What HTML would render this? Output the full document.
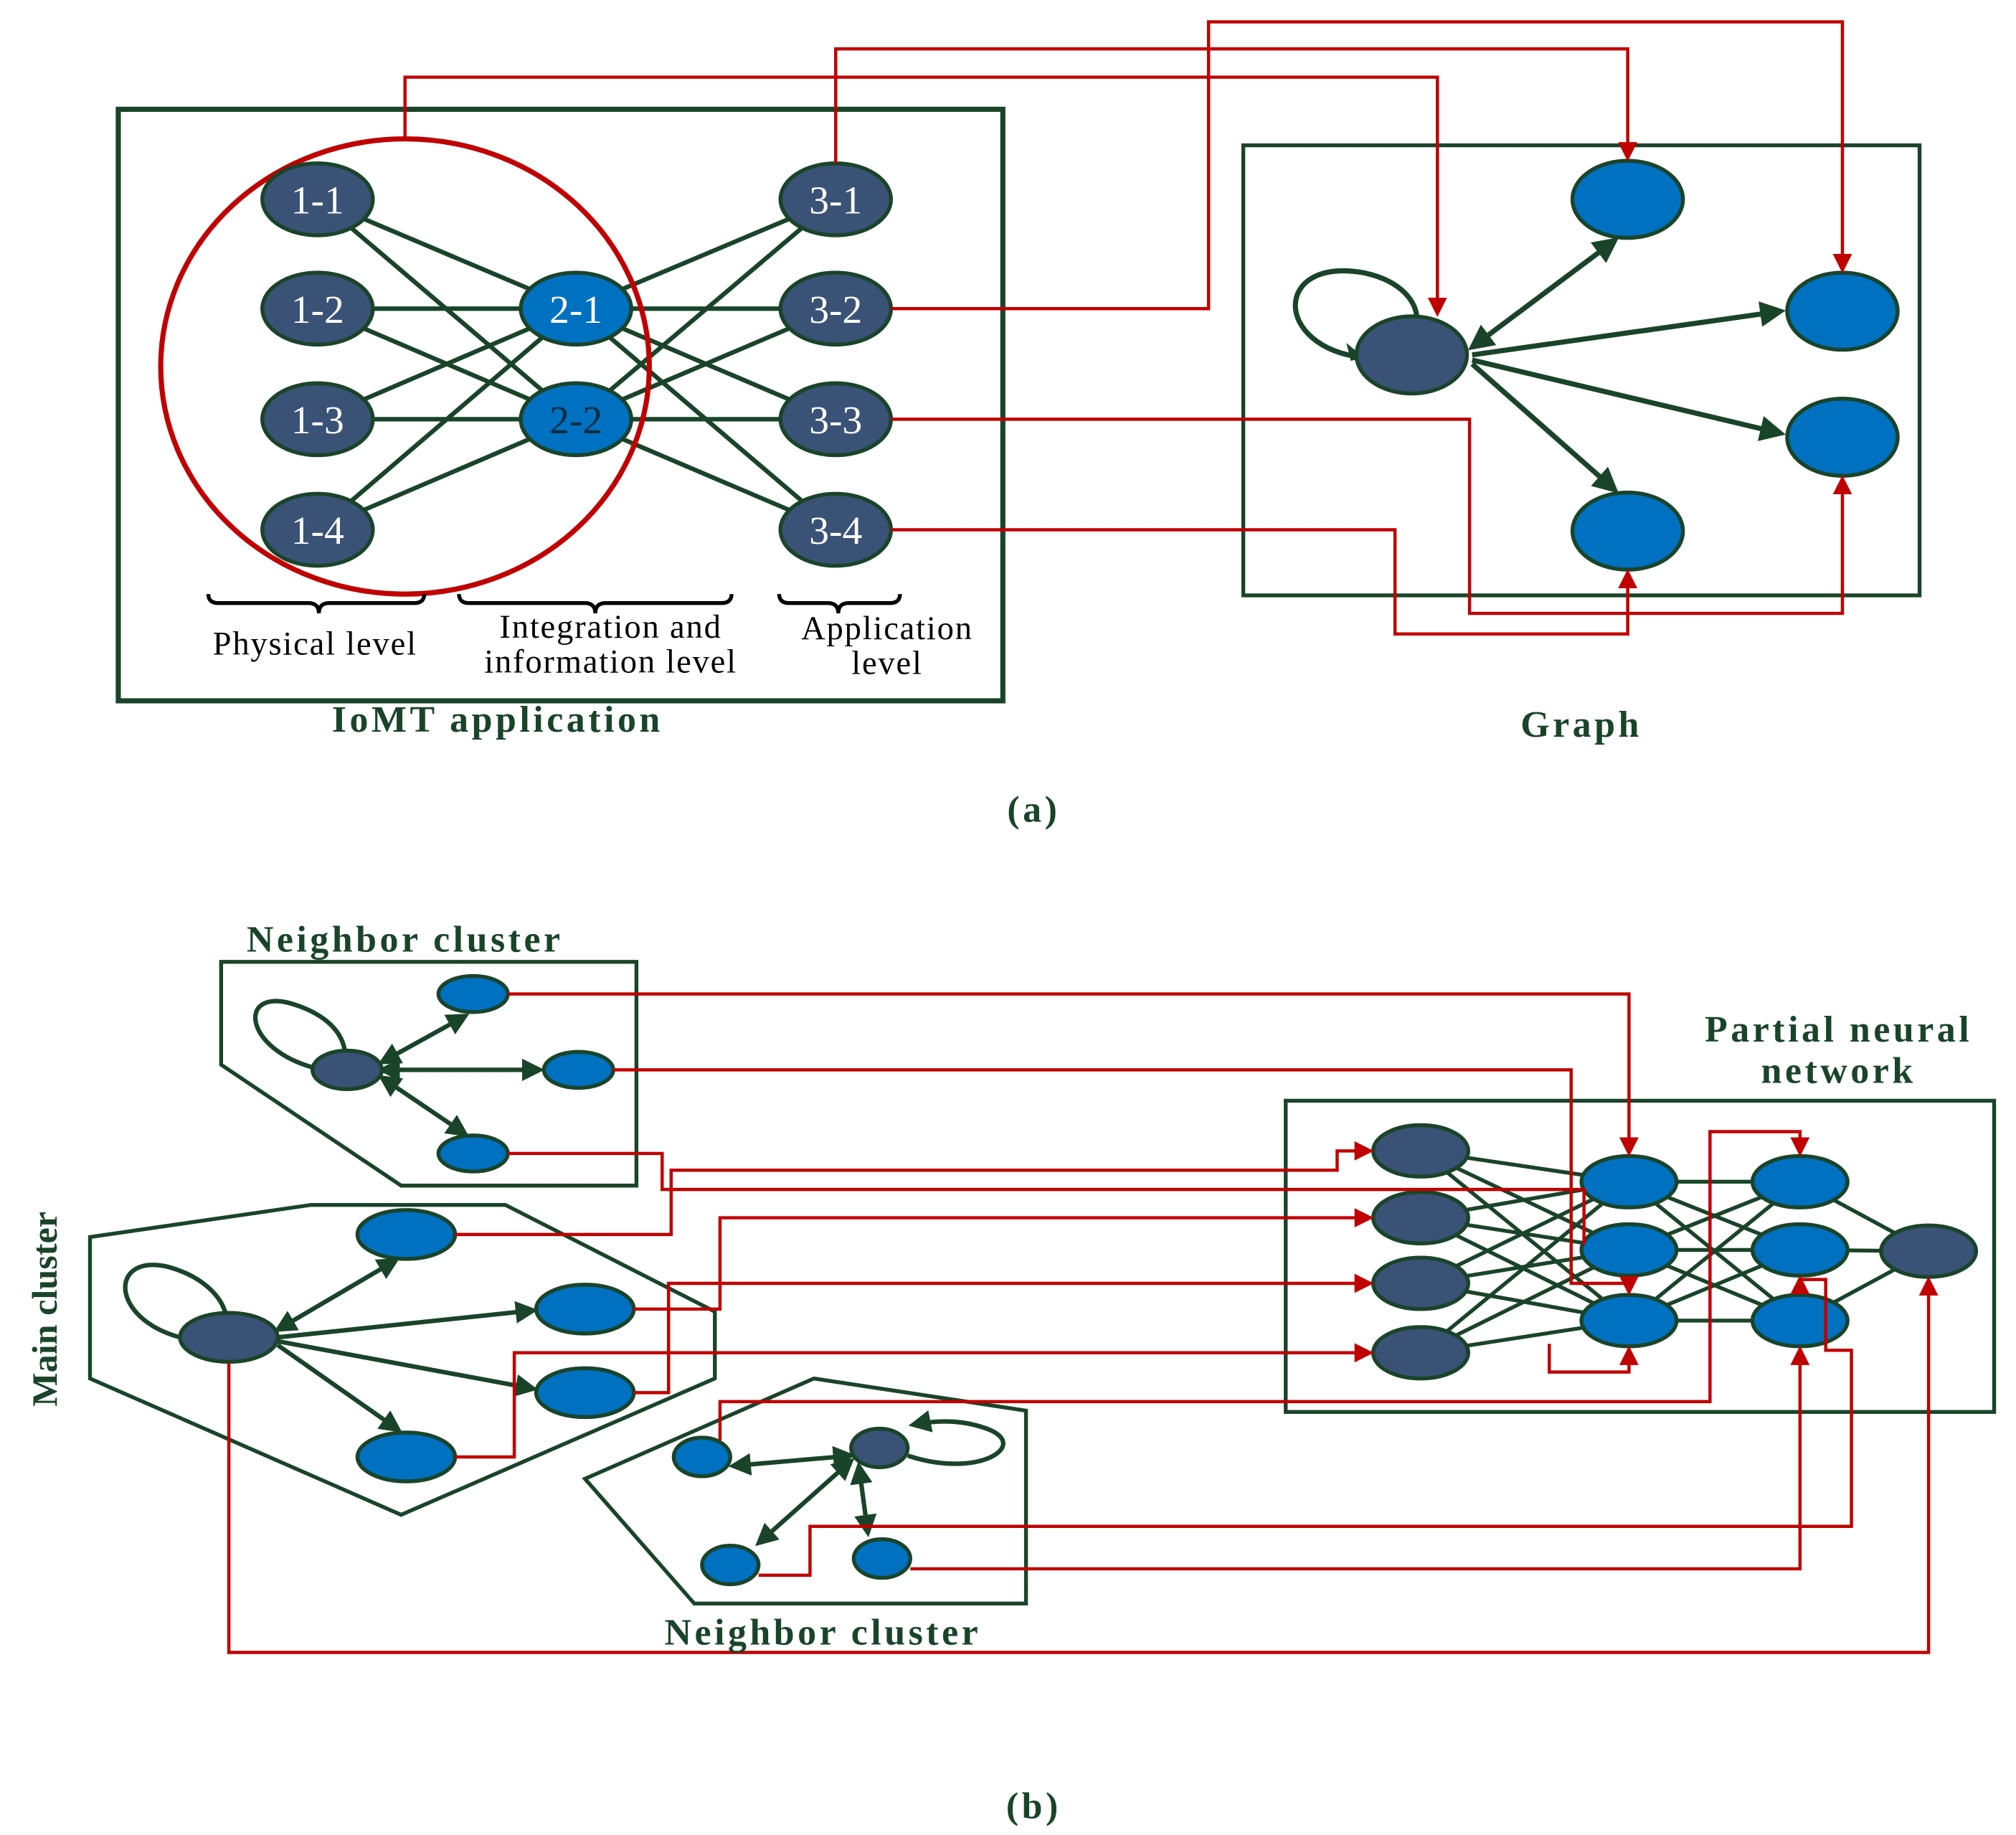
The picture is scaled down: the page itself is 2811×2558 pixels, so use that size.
<!DOCTYPE html>
<html><head><meta charset="utf-8"><style>
html,body{margin:0;padding:0;background:#fff;}
svg{display:block;}
text{font-family:"Liberation Serif",serif;}
</style></head><body>
<svg width="2811" height="2558" viewBox="0 0 1568 1427" preserveAspectRatio="none" xmlns="http://www.w3.org/2000/svg">
<defs>
<marker id="ar" markerWidth="6" markerHeight="6" refX="5" refY="3" orient="auto" markerUnits="strokeWidth"><path d="M0,0 L6,3 L0,6 z" fill="#c00000"/></marker>
<marker id="ag" markerWidth="5" markerHeight="5" refX="4" refY="2.5" orient="auto" markerUnits="strokeWidth"><path d="M0,0 L5,2.5 L0,5 z" fill="#1a4429"/></marker>
<marker id="ags" markerWidth="5" markerHeight="5" refX="1" refY="2.5" orient="auto" markerUnits="strokeWidth"><path d="M5,0 L0,2.5 L5,5 z" fill="#1a4429"/></marker>
</defs>
<g fill="none" stroke="#1a4429">
<rect x="92" y="85" width="688" height="460" stroke-width="4"/>
<rect x="967" y="113" width="526" height="350" stroke-width="3"/>
<g stroke-width="3.5">
<path d="M247,155L448,240M247,155L448,326M247,240L448,240M247,240L448,326M247,326L448,240M247,326L448,326M247,412L448,240M247,412L448,326"/>
<path d="M448,240L650,155M448,240L650,240M448,240L650,326M448,240L650,412M448,326L650,155M448,326L650,240M448,326L650,326M448,326L650,412"/>
</g>
<ellipse cx="315" cy="285" rx="190" ry="177" stroke="#c00000" stroke-width="4"/>
<g stroke-width="3">
<ellipse cx="247" cy="155" rx="43" ry="28" fill="#3a5276"/><ellipse cx="247" cy="240" rx="43" ry="28" fill="#3a5276"/>
<ellipse cx="247" cy="326" rx="43" ry="28" fill="#3a5276"/><ellipse cx="247" cy="412" rx="43" ry="28" fill="#3a5276"/>
<ellipse cx="448" cy="240" rx="43" ry="28" fill="#0070c0"/><ellipse cx="448" cy="326" rx="43" ry="28" fill="#0070c0"/>
<ellipse cx="650" cy="155" rx="43" ry="28" fill="#3a5276"/><ellipse cx="650" cy="240" rx="43" ry="28" fill="#3a5276"/>
<ellipse cx="650" cy="326" rx="43" ry="28" fill="#3a5276"/><ellipse cx="650" cy="412" rx="43" ry="28" fill="#3a5276"/>
</g>
<g stroke="#000" stroke-width="3">
<path d="M162,462q0,7 8,7h70q8,0 8,8q0,-8 8,-8h66q8,0 8,-7"/>
<path d="M357,462q0,7 8,7h90q8,0 8,8q0,-8 8,-8h90q8,0 8,-7"/>
<path d="M606,462q0,7 8,7h30q8,0 8,8q0,-8 8,-8h32q8,0 8,-7"/>
</g>
<g stroke-width="4">
<path d="M1145,270L1256,187" marker-end="url(#ag)" marker-start="url(#ags)"/>
<path d="M1145,276L1385,242" marker-end="url(#ag)"/>
<path d="M1145,280L1385,337" marker-end="url(#ag)"/>
<path d="M1145,283L1256,381" marker-end="url(#ag)"/>
<path d="M1060,278C990,270 990,200 1060,212C1090,218 1102,235 1102,248"/>
</g>
<path d="M1060,278l-12,-10l3,12z" fill="#1a4429"/>
<g stroke-width="3">
<ellipse cx="1098" cy="276" rx="43" ry="30" fill="#3a5276"/>
<ellipse cx="1266" cy="155" rx="43" ry="30" fill="#0070c0"/><ellipse cx="1433" cy="242" rx="43" ry="30" fill="#0070c0"/>
<ellipse cx="1433" cy="340" rx="43" ry="30" fill="#0070c0"/><ellipse cx="1266" cy="413" rx="43" ry="30" fill="#0070c0"/>
</g>
<g stroke="#c00000" stroke-width="2.5">
<path d="M315,108V60H1118V244" marker-end="url(#ar)"/>
<path d="M650,127V38H1266V123" marker-end="url(#ar)"/>
<path d="M693,240H940V17H1433V210" marker-end="url(#ar)"/>
<path d="M693,326H1143V477H1433V372" marker-end="url(#ar)"/>
<path d="M693,412H1085V493H1266V445" marker-end="url(#ar)"/>
</g>
<g stroke-width="3">
<path d="M172,748H495V922H312L172,828Z"/>
<path d="M70,962L242,937H393L556,1020V1072L312,1178L70,1072Z"/>
<path d="M455,1150L633,1072L798,1097V1247H540Z"/>
<rect x="1000" y="856" width="551" height="242"/>
</g>
<g stroke-width="3.5">
<path d="M297,826L362,790" marker-end="url(#ag)" marker-start="url(#ags)"/>
<path d="M297,832L420,832" marker-end="url(#ag)" marker-start="url(#ags)"/>
<path d="M297,838L362,882" marker-end="url(#ag)" marker-start="url(#ags)"/>
<path d="M243,830C190,815 185,770 225,780C250,787 265,800 268,816" />
<path d="M216,1034L308,980" marker-end="url(#ag)" marker-start="url(#ags)"/>
<path d="M216,1040L415,1019" marker-end="url(#ag)"/>
<path d="M216,1043L415,1080" marker-end="url(#ag)"/>
<path d="M216,1046L310,1112" marker-end="url(#ag)"/>
<path d="M140,1040C85,1025 85,975 130,985C160,993 172,1010 175,1020"/>
<path d="M662,1132L570,1140" marker-end="url(#ag)" marker-start="url(#ags)"/>
<path d="M662,1136L590,1200" marker-end="url(#ag)" marker-start="url(#ags)"/>
<path d="M668,1140L675,1192" marker-end="url(#ag)" marker-start="url(#ags)"/>
<path d="M706,1132C760,1150 800,1125 770,1112C750,1104 730,1104 710,1108" marker-end="url(#ag)"/>
</g>
<g stroke-width="3">
<path d="M1105,895L1267,919M1105,895L1267,972M1105,895L1267,1027M1105,947L1267,919M1105,947L1267,972M1105,947L1267,1027M1105,998L1267,919M1105,998L1267,972M1105,998L1267,1027M1105,1052L1267,919M1105,1052L1267,972M1105,1052L1267,1027"/>
<path d="M1267,919L1400,919M1267,919L1400,972M1267,919L1400,1027M1267,972L1400,919M1267,972L1400,972M1267,972L1400,1027M1267,1027L1400,919M1267,1027L1400,972M1267,1027L1400,1027"/>
<path d="M1400,919L1500,973M1400,972L1500,973M1400,1027L1500,973"/>
</g>
<g stroke-width="3">
<ellipse cx="270" cy="832" rx="27" ry="15" fill="#3a5276"/>
<ellipse cx="368" cy="773" rx="27" ry="14" fill="#0070c0"/><ellipse cx="450" cy="832" rx="27" ry="14" fill="#0070c0"/><ellipse cx="368" cy="897" rx="27" ry="14" fill="#0070c0"/>
<ellipse cx="178" cy="1040" rx="38" ry="19" fill="#3a5276"/>
<ellipse cx="316" cy="960" rx="38" ry="19" fill="#0070c0"/><ellipse cx="455" cy="1018" rx="38" ry="19" fill="#0070c0"/>
<ellipse cx="455" cy="1083" rx="38" ry="19" fill="#0070c0"/><ellipse cx="316" cy="1133" rx="38" ry="19" fill="#0070c0"/>
<ellipse cx="684" cy="1126" rx="22" ry="15" fill="#3a5276"/>
<ellipse cx="546" cy="1133" rx="22" ry="15" fill="#0070c0"/><ellipse cx="568" cy="1217" rx="22" ry="15" fill="#0070c0"/><ellipse cx="686" cy="1212" rx="22" ry="15" fill="#0070c0"/>
<ellipse cx="1105" cy="895" rx="37" ry="20" fill="#3a5276"/><ellipse cx="1105" cy="947" rx="37" ry="20" fill="#3a5276"/>
<ellipse cx="1105" cy="998" rx="37" ry="20" fill="#3a5276"/><ellipse cx="1105" cy="1052" rx="37" ry="20" fill="#3a5276"/>
<ellipse cx="1267" cy="919" rx="37" ry="20" fill="#0070c0"/><ellipse cx="1267" cy="972" rx="37" ry="20" fill="#0070c0"/><ellipse cx="1267" cy="1027" rx="37" ry="20" fill="#0070c0"/>
<ellipse cx="1400" cy="919" rx="37" ry="20" fill="#0070c0"/><ellipse cx="1400" cy="972" rx="37" ry="20" fill="#0070c0"/><ellipse cx="1400" cy="1027" rx="37" ry="20" fill="#0070c0"/>
<ellipse cx="1500" cy="973" rx="37" ry="20" fill="#3a5276"/>
</g>
<g stroke="#c00000" stroke-width="2.5">
<path d="M395,773H1267V897" marker-end="url(#ar)"/>
<path d="M477,832H1222V998H1267V1005" marker-end="url(#ar)"/>
<path d="M395,897H515V925H1232V968" />
<path d="M354,960H522V910H1040V895H1066" marker-end="url(#ar)"/>
<path d="M493,1018H560V947H1066" marker-end="url(#ar)"/>
<path d="M493,1083H520V998H1066" marker-end="url(#ar)"/>
<path d="M354,1133H400V1052H1066" marker-end="url(#ar)"/>
<path d="M560,1120V1090H1330V880H1400V897" marker-end="url(#ar)"/>
<path d="M590,1225H630V1187H1440V1050H1420V995H1400V994" marker-end="url(#ar)"/>
<path d="M708,1220H1400V1049" marker-end="url(#ar)"/>
<path d="M178,1060V1285H1500V995" marker-end="url(#ar)"/>
<path d="M1205,1045V1067H1267V1049" marker-end="url(#ar)"/>
</g>
</g>
<g font-size="31" fill="#fff" text-anchor="middle">
<text x="247" y="166">1-1</text><text x="247" y="251">1-2</text><text x="247" y="337">1-3</text><text x="247" y="423">1-4</text>
<text x="448" y="251">2-1</text><text x="448" y="337" fill="#0d2a40">2-2</text>
<text x="650" y="166">3-1</text><text x="650" y="251">3-2</text><text x="650" y="337">3-3</text><text x="650" y="423">3-4</text>
</g>
<g font-size="26" fill="#000" text-anchor="middle" letter-spacing="1">
<text x="245" y="509">Physical level</text>
<text x="475" y="496">Integration and</text><text x="475" y="523">information level</text>
<text x="690" y="497">Application</text><text x="690" y="524">level</text>
</g>
<g font-size="29" font-weight="bold" fill="#1a4429" text-anchor="middle" letter-spacing="2.5">
<text x="387" y="569">IoMT application</text>
<text x="1230" y="573">Graph</text>
<text x="804" y="639">(a)</text>
<text x="315" y="740">Neighbor cluster</text>
<text x="1430" y="810">Partial neural</text><text x="1430" y="842">network</text>
<text x="640" y="1279">Neighbor cluster</text>
<text x="804" y="1414">(b)</text>
<text transform="translate(44,1018) rotate(-90)" font-size="28" letter-spacing="0">Main cluster</text>
</g>
</svg>
</body></html>
